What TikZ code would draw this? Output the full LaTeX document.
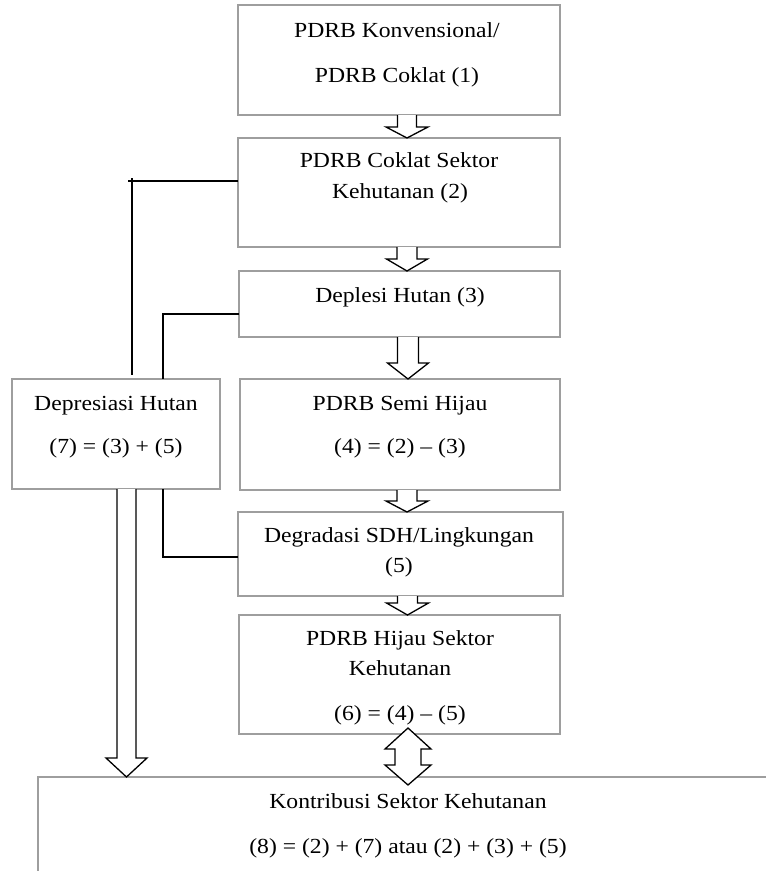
\documentclass[tikz,border=0pt]{standalone}
\usepackage{fontspec}
\setmainfont[FakeStretch=1.1]{Liberation Serif}
\usetikzlibrary{calc}
\tikzset{
  box/.style={draw=black!38, line width=1.5pt, inner sep=0pt, outer sep=0pt},
  lbl/.style={anchor=base, inner sep=0pt, outer sep=0pt, font=\fontsize{21.5}{25}\selectfont},
  link/.style={draw=black, line width=1.5pt},
  blk/.style={draw=black, fill=white, line width=1.3pt, line join=miter},
}
% #1 start point, #2 end point (tip), #3 shaft half width, #4 head half width, #5 head length
\newcommand\blkarrow[5]{%
  \filldraw[blk] let \p1=#1, \p2=#2 in
    (\x1-#3pt,\y1) -- (\x1-#3pt,\y2+#5pt) -- (\x1-#4pt,\y2+#5pt) -- (\x1,\y2)
    -- (\x1+#4pt,\y2+#5pt) -- (\x1+#3pt,\y2+#5pt) -- (\x1+#3pt,\y1);}
\begin{document}
\begin{tikzpicture}[x=1pt,y=-1pt]
\clip (0,0) rectangle (766,871);
\fill[white] (0,0) rectangle (766,871);

% boxes
\node[box, minimum width=322, minimum height=110] (b1) at (399,60) {};
\node[box, minimum width=322, minimum height=109] (b2) at (399,192.5) {};
\node[box, minimum width=321, minimum height=66]  (b3) at (399.5,304) {};
\node[box, minimum width=320, minimum height=111] (b4) at (400,434.5) {};
\node[box, minimum width=208, minimum height=110] (b7) at (116,434) {};
\node[box, minimum width=325, minimum height=84]  (b5) at (400.5,554) {};
\node[box, minimum width=321, minimum height=119] (b6) at (399.5,674.5) {};
\node[box, minimum width=800, minimum height=200] (b8) at (438,877) {};

% texts
\node[lbl] (t1a) at (397,37) {PDRB Konvensional/};
\node[lbl] (t1b) at (397,82) {PDRB Coklat (1)};
\node[lbl] (t2a) at (399,167) {PDRB Coklat Sektor};
\node[lbl] (t2b) at (400,198) {Kehutanan (2)};
\node[lbl] (t3)  at (400,302) {Deplesi Hutan (3)};
\node[lbl] (t4a) at (400,410) {PDRB Semi Hijau};
\node[lbl] (t4b) at (400,453) {(4) = (2) \textendash{} (3)};
\node[lbl] (t7a) at (116,410) {Depresiasi Hutan};
\node[lbl] (t7b) at (116,453) {(7) = (3) + (5)};
\node[lbl] (t5a) at (399,542) {Degradasi SDH/Lingkungan};
\node[lbl] (t5b) at (399,572) {(5)};
\node[lbl] (t6a) at (400,645) {PDRB Hijau Sektor};
\node[lbl] (t6b) at (400,675) {Kehutanan};
\node[lbl] (t6c) at (400,720) {(6) = (4) \textendash{} (5)};
\node[lbl] (t8a) at (408,808) {Kontribusi Sektor Kehutanan};
\node[lbl] (t8b) at (408,853) {(8) = (2) + (7) atau (2) + (3) + (5)};

% connectors
\coordinate (c2) at ($(b2.west)+(-110,-11.5)$);
\draw[link] ($(b2.west)+(0,-11.5)$) -- (c2);
\draw[link] ($(b7.north)+(16,-201)$) -- ($(b7.north)+(16,-4)$);
\draw[link] ($(b3.west)+(0,10)$) -| ($(b7.north)+(47,0)$);
\draw[link] ($(b7.south)+(47,0)$) |- ($(b5.west)+(0,3)$);

% block arrows
\blkarrow{($(b1.south)+(8,0)$)}{(b2.north)}{9.5}{21}{11}
\blkarrow{($(b2.south)+(8,0)$)}{(b3.north)}{10}{20.5}{12}
\blkarrow{($(b3.south)+(8.5,0)$)}{(b4.north)}{10.5}{20.5}{16}
\blkarrow{($(b4.south)+(7,0)$)}{(b5.north)}{10}{21}{11}
\blkarrow{($(b5.south)+(7,0)$)}{(b6.north)}{10}{21}{12}
\blkarrow{($(b7.south)+(10.5,0)$)}{(b8.north)}{9.5}{20.5}{19}

% double arrow
\coordinate (dtop) at ($(b6.south)+(8.5,-6)$);
\coordinate (dbot) at ($(b8.north)+(-30,8)$);
\filldraw[blk] let \p1=(dtop), \p2=(dbot) in
  (\x1,\y1) -- (\x1+23pt,\y1-21pt) -- (\x1+13pt,\y1-21pt) -- (\x1+13pt,\y2+20pt)
  -- (\x1+23pt,\y2+20pt) -- (\x1,\y2) -- (\x1-23pt,\y2+20pt) -- (\x1-13pt,\y2+20pt)
  -- (\x1-13pt,\y1-21pt) -- (\x1-23pt,\y1-21pt) -- cycle;
\end{tikzpicture}
\end{document}
